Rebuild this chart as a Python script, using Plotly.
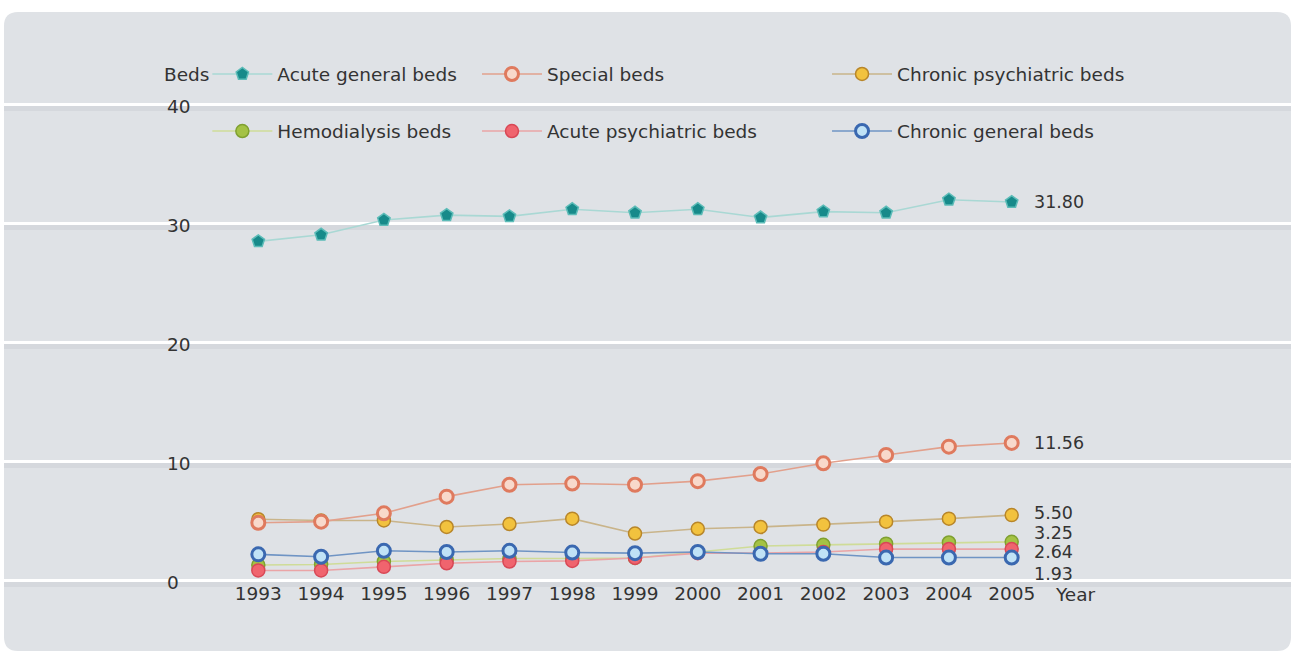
import plotly.graph_objects as go

years = list(range(1993, 2006))

acute_general = [28.5, 29.05, 30.3, 30.7, 30.6, 31.2, 30.9, 31.2, 30.5, 31.0, 30.9, 32.0, 31.80]
special = [4.85, 4.95, 5.65, 7.05, 8.05, 8.15, 8.05, 8.35, 8.95, 9.85, 10.55, 11.25, 11.56]
chronic_psych = [5.15, 5.05, 5.05, 4.5, 4.75, 5.2, 3.95, 4.35, 4.5, 4.7, 4.95, 5.2, 5.50]
hemodialysis = [1.3, 1.35, 1.6, 1.75, 1.85, 1.85, 1.9, 2.4, 2.9, 3.0, 3.1, 3.2, 3.25]
acute_psych = [0.85, 0.85, 1.15, 1.45, 1.6, 1.65, 1.9, 2.3, 2.3, 2.4, 2.65, 2.65, 2.64]
chronic_general = [2.2, 2.0, 2.5, 2.4, 2.5, 2.35, 2.3, 2.4, 2.25, 2.25, 1.93, 1.93, 1.93]

y_ticks = [0, 10, 20, 30, 40]

FONT = "DejaVu Sans"
TXT = "#333333"
FS = 18.5
LFS = 17.5

fig = go.Figure()

# (name, data, line colour, marker symbol, fill, outline, outline width, legend, rank, label yshift)
series = [
    ("Acute general beds", acute_general, "#a9d8d4", "pentagon", "#178a8a", "#5cbcb8", 1.5, "legend", 1, 0),
    ("Chronic psychiatric beds", chronic_psych, "#c9b48a", "circle", "#f2c23e", "#b8862a", 1.5, "legend3", 1, 2),
    ("Special beds", special, "#e2a08c", "circle", "#f8d9cb", "#df7a5e", 3, "legend2", 1, 0),
    ("Hemodialysis beds", hemodialysis, "#cfdc98", "circle", "#a4c244", "#7fa030", 1.5, "legend", 2, 9),
    ("Acute psychiatric beds", acute_psych, "#eaa4a6", "circle", "#f0646e", "#d84856", 1.5, "legend2", 2, -3),
    ("Chronic general beds", chronic_general, "#6f94c4", "circle", "#c0e2f6", "#3a68b0", 3, "legend3", 2, -16),
]

for name, vals, lc, sym, fill, outl, ow, leg, rank, ysh in series:
    fig.add_trace(go.Scatter(
        x=years, y=vals, name=name, mode="lines+markers",
        line=dict(color=lc, width=1.6),
        marker=dict(symbol=sym, size=13, color=fill, line=dict(color=outl, width=ow)),
        legend=leg, legendrank=rank, legendgroup=name,
    ))
    fig.add_annotation(
        x=years[-1], y=vals[-1], text=f"{vals[-1]:.2f}", showarrow=False,
        xanchor="left", yanchor="middle", xshift=20, yshift=ysh,
        font=dict(family=FONT, size=LFS, color=TXT),
    )

fig.add_annotation(x=years[-1], y=0, text="Year", showarrow=False, xanchor="left",
                   yanchor="top", xshift=41, yshift=-1,
                   font=dict(family=FONT, size=FS, color=TXT))
fig.add_annotation(x=0.123, xref="paper", y=40, yref="y", text="Beds", showarrow=False,
                   xanchor="left", yanchor="middle", yshift=30,
                   font=dict(family=FONT, size=FS, color=TXT))

# rounded card
rx, ry = 14 / 1287, 14 / 639
card = (f"M {rx},0 L {1-rx},0 Q 1,0 1,{ry} L 1,{1-ry} Q 1,1 {1-rx},1 "
        f"L {rx},1 Q 0,1 0,{1-ry} L 0,{ry} Q 0,0 {rx},0 Z")
fig.add_shape(type="path", path=card, xref="paper", yref="paper",
              fillcolor="#dfe2e6", line=dict(width=0), layer="below")

ymin, ymax = -5.92, 47.77
x0pos = (0 - ymin) / (ymax - ymin)

legend_common = dict(xanchor="left", yanchor="top", orientation="v",
                     bgcolor="rgba(0,0,0,0)", borderwidth=0,
                     font=dict(family=FONT, size=FS, color=TXT),
                     tracegroupgap=30, itemwidth=60)

fig.update_layout(
    width=1294, height=654,
    margin=dict(l=4, r=3, t=12, b=3),
    paper_bgcolor="white", plot_bgcolor="rgba(0,0,0,0)",
    font=dict(family=FONT, size=FS, color=TXT),
    xaxis=dict(range=[1988.949, 2009.449], tickvals=years, ticktext=[str(y) for y in years],
               showgrid=False, zeroline=False, showline=False, ticks="",
               anchor="free", position=x0pos,
               tickfont=dict(family=FONT, size=FS, color=TXT)),
    yaxis=dict(range=[ymin, ymax], tickvals=[v - 0.32 for v in y_ticks],
               showticklabels=False,
               showgrid=True, gridcolor="#d5d8dd", gridwidth=6, zeroline=False,
               showline=False, ticks=""),
    yaxis2=dict(range=[ymin, ymax], overlaying="y", tickvals=y_ticks,
                ticktext=[str(v) for v in y_ticks],
                showgrid=True, gridcolor="white", gridwidth=2.5, zeroline=False,
                showline=False, ticks="", anchor="free", position=(163 - 4) / 1287,
                side="left", ticklabelposition="inside", ticklabelshift=2,
                tickfont=dict(family=FONT, size=FS, color=TXT)),
    legend=dict(x=0.158, y=0.932, **legend_common),
    legend2=dict(x=0.3675, y=0.932, **legend_common),
    legend3=dict(x=0.6395, y=0.932, **legend_common),
    showlegend=True,
)

# invisible trace so the overlaying axis is drawn
fig.add_trace(go.Scatter(x=[years[0]], y=[y_ticks[0]], yaxis="y2", mode="markers",
                         marker=dict(opacity=0), showlegend=False, hoverinfo="skip"))

fig.write_html("out.html")
